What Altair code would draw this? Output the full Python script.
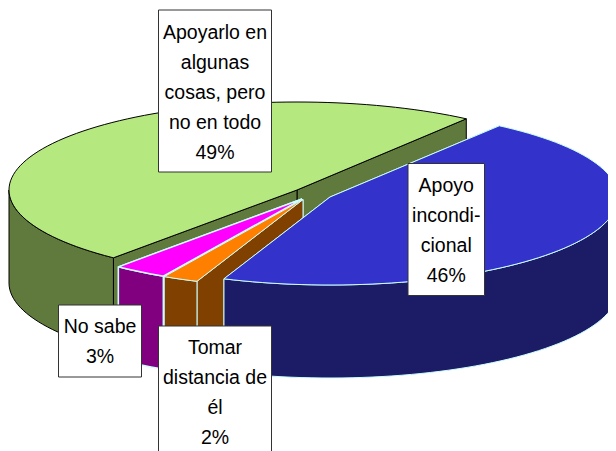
import math
import altair as alt
import pandas as pd

# ---- chart values ----
categories = ["Apoyarlo en algunas cosas, pero no en todo", "No sabe", "Tomar distancia de él", "Apoyo incondicional"]
shares = [49, 3, 2, 46]
first_angle = 54.0

# ---- pie styling ----
top_colors = ["#B6E880", "#FF00FF", "#FF8000", "#3333CC"]
side_colors = ["#5F7A3C", "#800080", "#804000", "#1C1C66"]
edge_colors = ["#000000", "#CCFFFF", "#CCFFFF", "#CCFFFF"]
edge_widths = [1.0, 1.4, 1.0, 1.0]
apex_x = [297, 302, 303, 330]
apex_y = [190, 199, 199.5, 197]
RX, RY, DEPTH = 288, 88, 93

# ---- label boxes ----
box_left = [158.5, 58.5, 158.5, 408]
box_right = [271.5, 141.5, 271.5, 484.5]
box_top = [10, 305, 326, 163.5]
box_bottom = [172, 377, 470, 295.5]
label_lines = [
    ["Apoyarlo en", "algunas", "cosas, pero", "no en todo", "49%"],
    ["No sabe", "3%"],
    ["Tomar", "distancia de", "él", "2%"],
    ["Apoyo", "incondi-", "cional", "46%"],
]
first_line_y = [32.5, 326.5, 347.5, 185.5]
LINE_STEP = 30

X = alt.X("x:Q", axis=None, scale=alt.Scale(domain=[8, 608], nice=False, zero=False))
Y = alt.Y("y:Q", axis=None, scale=alt.Scale(domain=[451, 8], nice=False, zero=False))


def rim(i, t, drop=0):
    a = math.radians(t)
    return apex_x[i] + RX * math.cos(a), apex_y[i] - RY * math.sin(a) + drop


def arc_angles(t1, t2, step=2.0):
    out, t = [], t1
    while t < t2:
        out.append(t)
        t += step
    out.append(t2)
    return out


def polygon(points, fill, stroke, width):
    pts = points + [points[0]]
    df = pd.DataFrame({"x": [p[0] for p in pts], "y": [p[1] for p in pts], "n": range(len(pts))})
    return alt.Chart(df).mark_line(
        fill=fill, stroke=stroke, strokeWidth=width, strokeJoin="round", clip=True
    ).encode(x=X, y=Y, order="n:Q")


spans, t = [], first_angle
for v in shares:
    spans.append((t, t + v * 3.6))
    t += v * 3.6

layers = []
for i in [0, 1, 2, 3]:
    t1, t2 = spans[i]
    ax, ay = apex_x[i], apex_y[i]
    w1, w2 = max(t1, 180), min(t2, 360)
    wall = [rim(i, a) for a in arc_angles(w1, w2)] + [rim(i, a, DEPTH) for a in reversed(arc_angles(w1, w2))]
    for tt in (t1, t2):
        face = [(ax, ay), rim(i, tt), rim(i, tt, DEPTH), (ax, ay + DEPTH)]
        layers.append(polygon(face, side_colors[i], edge_colors[i], edge_widths[i]))
    layers.append(polygon(wall, side_colors[i], edge_colors[i], edge_widths[i]))
    top = [(ax, ay)] + [rim(i, a) for a in arc_angles(t1, t2)]
    layers.append(polygon(top, top_colors[i], edge_colors[i], edge_widths[i]))

boxes = pd.DataFrame({"x": box_left, "x2": box_right, "y": box_top, "y2": box_bottom})
layers.append(
    alt.Chart(boxes).mark_rect(fill="#FFFFFF", stroke="#333333", strokeWidth=1, clip=True).encode(
        x=X, x2="x2:Q", y=Y, y2="y2:Q"
    )
)

rows = []
for i, lines in enumerate(label_lines):
    for j, s in enumerate(lines):
        rows.append({"x": (box_left[i] + box_right[i]) / 2, "y": first_line_y[i] + j * LINE_STEP, "s": s})
layers.append(
    alt.Chart(pd.DataFrame(rows)).mark_text(
        font="Liberation Sans", fontSize=19.5, color="#000000", align="center", baseline="middle"
    ).encode(x=X, y=Y, text="s:N")
)

chart = alt.layer(*layers).properties(
    width=600, height=443, padding=0, autosize=alt.AutoSizeParams(type="none")
).configure_view(stroke=None)

chart.save("out.html", embed_options={"renderer": "svg", "actions": False})
